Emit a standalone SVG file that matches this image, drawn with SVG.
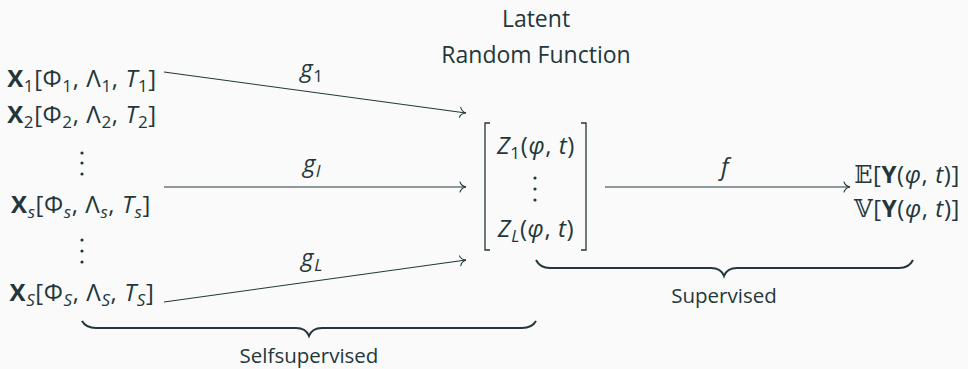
<svg xmlns="http://www.w3.org/2000/svg" width="968" height="369" viewBox="0 0 968 369">
  <defs>
    <style>
      text { fill: #23373B; font-family: "Open Sans", "Lato", "DejaVu Sans", sans-serif; font-size: 23px; }
      .lbl { text-anchor: middle; }
      .m { text-anchor: middle; }
      .mx { font-size: 24px; letter-spacing: 0.6px; }
      .sm { font-size: 20.5px; }
      .b { font-weight: bold; }
      .i { font-style: italic; }
      .sub { font-size: 17px; }
      .bb { font-family: "DejaVu Serif", "DejaVu Sans", serif; }
      .edge { stroke: #23373B; stroke-width: 1.1; fill: none; marker-end: url(#to); }
      .brace { stroke: #23373B; stroke-width: 2; fill: none; }
      .br { stroke: #23373B; stroke-width: 1.3; fill: none; }
      .dot { fill: #23373B; }
    </style>
    <marker id="to" markerUnits="userSpaceOnUse" viewBox="-8 -6 10 12" refX="0" refY="0" markerWidth="10" markerHeight="12" orient="auto" overflow="visible">
      <path d="M -6 -5 C -5 -2 -2 -0.4 0 0 C -2 0.4 -5 2 -6 5" stroke="#23373B" stroke-width="1.1" fill="none" stroke-linecap="round"/>
    </marker>
  </defs>
  <rect width="968" height="369" fill="#FAFAFA"/>

  <g id="connectors">
    <path class="edge" d="M 164 72 L 466 113"/>
    <path class="edge" d="M 164 187 L 466 187"/>
    <path class="edge" d="M 164 302 L 466 260"/>
    <path class="edge" d="M 605 187 L 850 187"/>
    <text class="lbl i mx" x="312" y="77">g<tspan class="sub" font-style="normal" dy="5">1</tspan></text>
    <text class="lbl i mx" x="312" y="172">g<tspan class="sub" dy="5">l</tspan></text>
    <text class="lbl i mx" x="312" y="266">g<tspan class="sub" dy="5">L</tspan></text>
    <text class="lbl i mx" x="725" y="175">f</text>
  </g>

  <g id="x1">
    <text class="m mx" x="82" y="87"><tspan class="b">X</tspan><tspan class="sub" dy="5">1</tspan><tspan dy="-5">[Φ</tspan><tspan class="sub" dy="5">1</tspan><tspan dy="-5">, Λ</tspan><tspan class="sub" dy="5">1</tspan><tspan dy="-5">, </tspan><tspan class="i">T</tspan><tspan class="sub" dy="5">1</tspan><tspan dy="-5">]</tspan></text>
  </g>
  <g id="x2">
    <text class="m mx" x="82" y="123"><tspan class="b">X</tspan><tspan class="sub" dy="5">2</tspan><tspan dy="-5">[Φ</tspan><tspan class="sub" dy="5">2</tspan><tspan dy="-5">, Λ</tspan><tspan class="sub" dy="5">2</tspan><tspan dy="-5">, </tspan><tspan class="i">T</tspan><tspan class="sub" dy="5">2</tspan><tspan dy="-5">]</tspan></text>
  </g>
  <g id="vdots1">
    <circle class="dot" cx="82" cy="153" r="1.6"/>
    <circle class="dot" cx="82" cy="163" r="1.6"/>
    <circle class="dot" cx="82" cy="174" r="1.6"/>
  </g>
  <g id="xs">
    <text class="m mx" x="81" y="213"><tspan class="b">X</tspan><tspan class="sub i" dy="5">s</tspan><tspan dy="-5">[Φ</tspan><tspan class="sub i" dy="5">s</tspan><tspan dy="-5">, Λ</tspan><tspan class="sub i" dy="5">s</tspan><tspan dy="-5">, </tspan><tspan class="i">T</tspan><tspan class="sub i" dy="5">s</tspan><tspan dy="-5">]</tspan></text>
  </g>
  <g id="vdots2">
    <circle class="dot" cx="82" cy="240" r="1.6"/>
    <circle class="dot" cx="82" cy="251" r="1.6"/>
    <circle class="dot" cx="82" cy="262" r="1.6"/>
  </g>
  <g id="xS">
    <text class="m mx" x="82" y="301"><tspan class="b">X</tspan><tspan class="sub i" dy="5">S</tspan><tspan dy="-5">[Φ</tspan><tspan class="sub i" dy="5">S</tspan><tspan dy="-5">, Λ</tspan><tspan class="sub i" dy="5">S</tspan><tspan dy="-5">, </tspan><tspan class="i">T</tspan><tspan class="sub i" dy="5">S</tspan><tspan dy="-5">]</tspan></text>
  </g>

  <g id="latent">
    <text class="m" x="536" y="27">Latent</text>
    <text class="m" x="536" y="63">Random Function</text>
    <path class="br" d="M 490 123 L 485 123 L 485 250 L 490 250"/>
    <path class="br" d="M 581 123 L 586 123 L 586 250 L 581 250"/>
    <text class="m mx" x="536" y="154"><tspan class="i">Z</tspan><tspan class="sub" dy="5">1</tspan><tspan dy="-5">(</tspan><tspan class="i">φ</tspan><tspan>, </tspan><tspan class="i">t</tspan><tspan>)</tspan></text>
    <circle class="dot" cx="535" cy="178" r="1.6"/>
    <circle class="dot" cx="535" cy="189" r="1.6"/>
    <circle class="dot" cx="535" cy="200" r="1.6"/>
    <text class="m mx" x="536" y="237"><tspan class="i">Z</tspan><tspan class="sub i" dy="5">L</tspan><tspan dy="-5">(</tspan><tspan class="i">φ</tspan><tspan>, </tspan><tspan class="i">t</tspan><tspan>)</tspan></text>
  </g>

  <g id="output">
    <text class="m mx" x="907" y="183"><tspan class="bb">𝔼</tspan><tspan>[</tspan><tspan class="b">Y</tspan><tspan>(</tspan><tspan class="i">φ</tspan><tspan>, </tspan><tspan class="i">t</tspan><tspan>)]</tspan></text>
    <text class="m mx" x="907" y="217"><tspan class="bb">𝕍</tspan><tspan>[</tspan><tspan class="b">Y</tspan><tspan>(</tspan><tspan class="i">φ</tspan><tspan>, </tspan><tspan class="i">t</tspan><tspan>)]</tspan></text>
  </g>

  <g id="supervised">
    <path class="brace" d="M 536 260 Q 540 268 550 268 L 711 268 Q 721 268 724 276 Q 727 268 737 268 L 899 268 Q 909 268 913 260"/>
    <text class="m sm" x="724" y="303">Supervised</text>
  </g>

  <g id="selfsupervised">
    <path class="brace" d="M 82 321 Q 86 328 96 328 L 296 328 Q 306 328 309 336 Q 312 328 322 328 L 522 328 Q 532 328 536 321"/>
    <text class="m sm" x="309" y="363">Selfsupervised</text>
  </g>
</svg>
